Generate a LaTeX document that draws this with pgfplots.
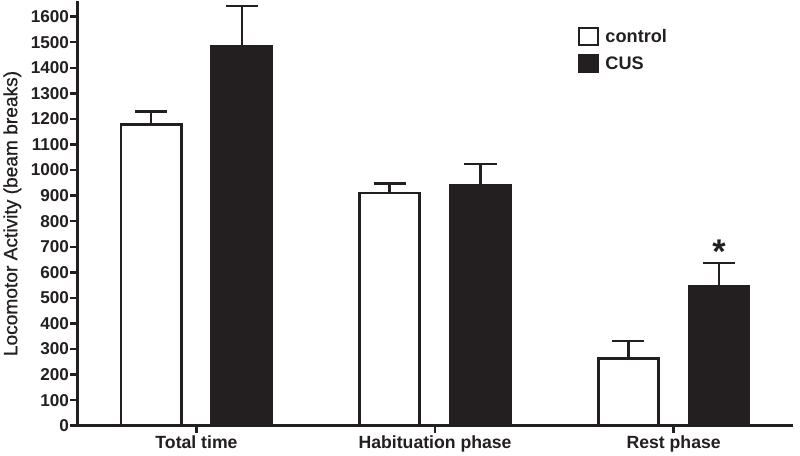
\documentclass[border=0pt]{standalone}
\usepackage{pgfplots}
\pgfplotsset{compat=1.18}
\usepackage{fontspec}
\setmainfont{Liberation Sans}
\newfontface\labelfont[FakeBold=0.6]{Liberation Sans}
\definecolor{ink}{HTML}{231F20}
\begin{document}
\begin{tikzpicture}
\begin{axis}[
  scale only axis,
  width=710pt, height=421pt,
  ybar, bar width=0.252,
  xmin=-0.5, xmax=2.5,
  ymin=0, ymax=1660,
  axis x line*=bottom, axis y line*=left,
  axis line style={ink, line width=2.6pt},
  xtick={0,1,2},
  xticklabels={Total time, Habituation phase, Rest phase},
  ytick={0,100,...,1600},
  tick style={ink, line width=2.4pt},
  tick align=outside,
  major tick length=7pt,
  /pgf/number format/assume math mode=true,
  /pgf/number format/1000 sep={},
  yticklabel style={font=\fontsize{17}{20}\selectfont\bfseries, text=ink, inner sep=1pt},
  xticklabel style={font=\fontsize{17.5}{20}\selectfont\bfseries, text=ink, yshift=1pt},
  ylabel={Locomotor Activity (beam breaks)},
  ylabel style={font=\labelfont\fontsize{19}{20}\selectfont, text=ink, yshift=5pt},
  legend style={at={(rel axis cs:0.695,0.945)}, anchor=north west, draw=none, fill=none,
    font=\fontsize{18}{20}\selectfont\bfseries, text=ink, row sep=7pt},
  legend cell align=left,
  legend image code/.code={\draw[#1, line width=2.4pt] (0pt,-8pt) rectangle (19pt,9pt);},
  error bars/error bar style={ink, line width=2.6pt},
  error bars/error mark options={ink, line width=2.6pt, mark size=16pt, rotate=90},
]
\addplot[bar shift=-0.19, fill=white, draw=ink, line width=2.6pt,
  error bars/.cd, y dir=plus, y explicit]
  coordinates {(0,1177) +- (0,51) (1,910) +- (0,38) (2,263) +- (0,69)};
\addlegendentry{\hspace{4pt}control}
\addplot[bar shift=0.19, fill=ink, draw=ink, line width=2.6pt,
  error bars/.cd, y dir=plus, y explicit]
  coordinates {(0,1484) +- (0,157) (1,941) +- (0,82) (2,545) +- (0,91)};
\addlegendentry{\hspace{4pt}CUS}
\node[font=\fontsize{34}{34}\selectfont\bfseries, text=ink] at (axis cs:2.19,680) {*};
\end{axis}
\path (current axis.south east) rectangle ++(7pt,-27pt);
\end{tikzpicture}
\end{document}
